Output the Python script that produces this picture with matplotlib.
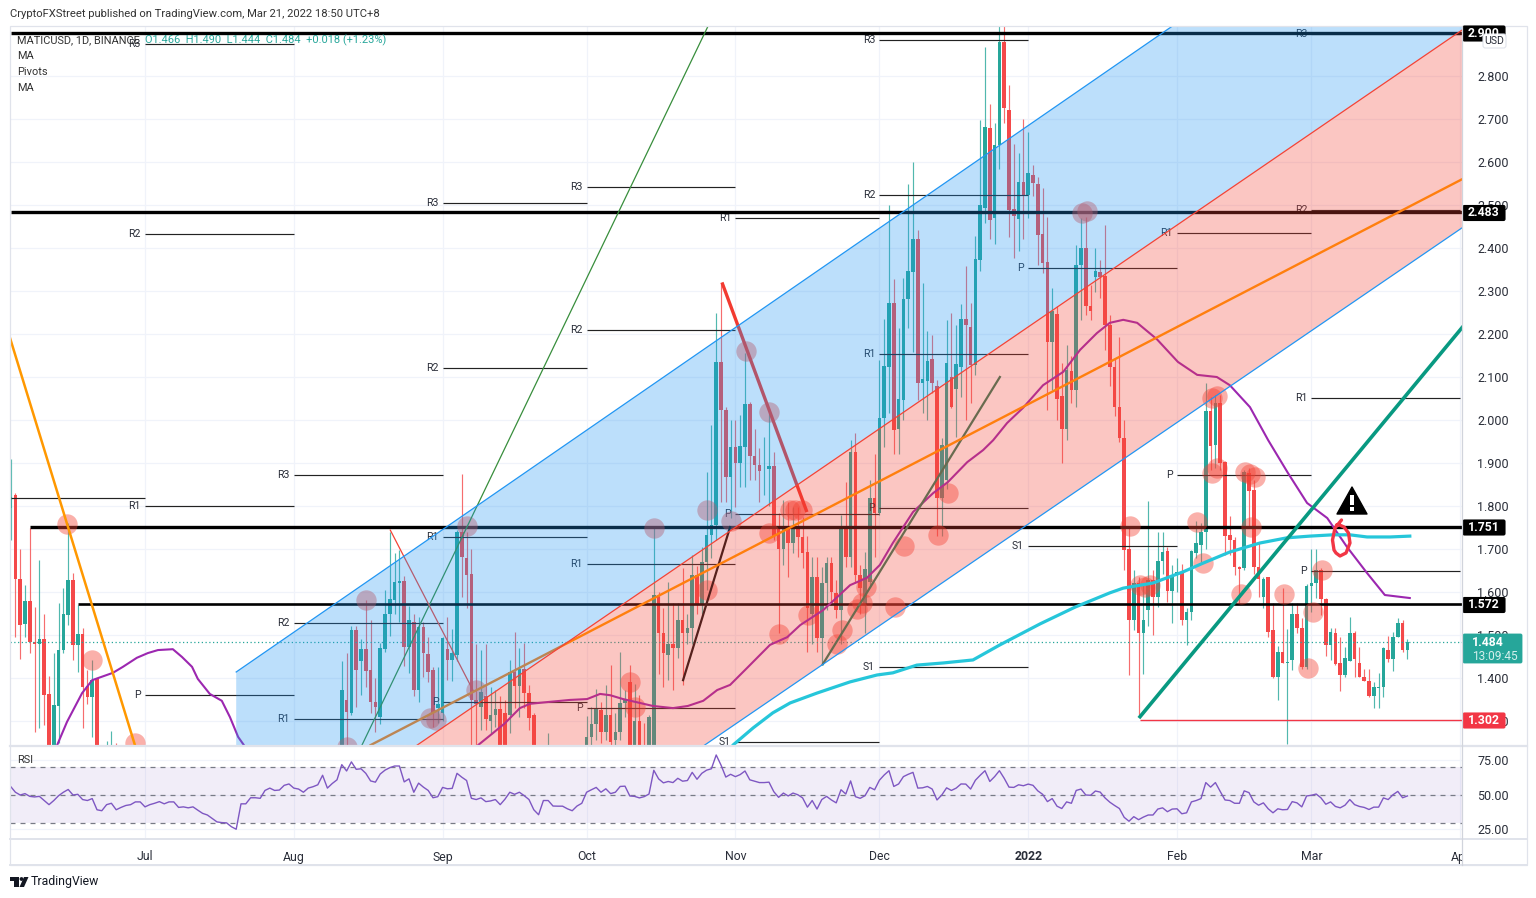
import matplotlib
matplotlib.use("Agg")
import matplotlib.pyplot as plt
from matplotlib.patches import Polygon, Rectangle, FancyBboxPatch, Circle
from matplotlib.transforms import Bbox, TransformedBbox

plt.rcParams["font.family"] = ["Roboto", "DejaVu Sans"]

W, H = 1536, 898
LEFT, RIGHT, TOP, MID, BOT = 10, 1462, 26, 745, 838

# ========================= CANDLES (day 0 = 1 Jul 2021) =========================
candle_days = list(range(-28, -5)) + list(range(41, 264))

opens = [
    1.795, 1.825, 1.63, 1.526, 1.58, 1.484, 1.479, 1.49, 1.363, 1.22,
    1.335, 1.465, 1.546, 1.628, 1.477, 1.502, 1.381, 1.356, 1.398, 1.2,
    1.12, 1.15, 1.18,
    # day 41
    1.24, 1.35, 1.318, 1.512, 1.44, 1.467, 1.419, 1.345, 1.31, 1.468,
    1.549, 1.581, 1.622, 1.626, 1.473, 1.531, 1.372, 1.519, 1.456, 1.419,
    1.33, 1.318, 1.467, 1.442, 1.454, 1.74, 1.678, 1.643, 1.349, 1.332,
    1.357, 1.301, 1.314, 1.327, 1.318, 1.314, 1.415, 1.382, 1.42, 1.364,
    1.314, 1.2, 1.21, 1.18, 1.2, 1.16, 1.19, 1.17, 1.2, 1.18,
    1.19, 1.2, 1.263, 1.293, 1.326, 1.274, 1.314, 1.256, 1.274, 1.343,
    # day 101
    1.39, 1.24, 1.30, 1.22, 1.21, 1.24, 1.589, 1.504, 1.453, 1.48,
    1.47, 1.535, 1.504, 1.516, 1.64, 1.57, 1.67, 1.733, 1.756, 2.136,
    2.023, 1.868, 1.938, 1.901, 1.938, 2.037, 1.916, 1.895, 1.886, 1.885,
    1.893, 1.75, 1.70, 1.75, 1.713, 1.75, 1.727, 1.694, 1.55, 1.636,
    1.492, 1.62, 1.667, 1.597, 1.558, 1.748, 1.682, 1.926, 1.64, 1.57,
    1.624, 1.818, 1.783, 2.004, 2.124, 2.273, 1.98, 2.047, 2.281, 2.345,
    # day 161
    2.422, 2.085, 2.09, 2.141, 2.08, 1.818, 1.86, 2.099, 2.071, 2.124,
    2.234, 2.216, 2.128, 2.371, 2.492, 2.678, 2.469, 2.639, 2.88, 2.721,
    2.49, 2.467, 2.554, 2.523, 2.57, 2.55, 2.432, 2.367, 2.182, 2.246,
    2.056, 1.98, 2.115, 2.07, 2.36, 2.4, 2.265, 2.333, 2.345, 2.335,
    2.221, 2.124, 2.031, 1.957, 1.70, 1.535, 1.62, 1.504, 1.558, 1.628,
    1.589, 1.673, 1.695, 1.603, 1.64, 1.647, 1.536, 1.553, 1.691, 1.71,
    # day 221
    1.74, 2.02, 1.942, 2.039, 1.902, 1.733, 1.721, 1.659, 1.655, 1.876,
    1.837, 1.659, 1.589, 1.634, 1.512, 1.403, 1.461, 1.434, 1.442, 1.549,
    1.516, 1.426, 1.614, 1.62, 1.651, 1.583, 1.477, 1.505, 1.436, 1.407,
    1.44, 1.505, 1.436, 1.403, 1.394, 1.357, 1.376, 1.38, 1.466, 1.444,
    1.496, 1.529, 1.466,
]
highs = [
    1.91, 1.83, 1.70, 1.616, 1.749, 1.565, 1.674, 1.549, 1.405, 1.458,
    1.574, 1.609, 1.76, 1.644, 1.57, 1.516, 1.419, 1.442, 1.40, 1.22,
    1.254, 1.277, 1.25,
    # day 41
    1.44, 1.457, 1.521, 1.521, 1.49, 1.581, 1.535, 1.40, 1.481, 1.605,
    1.739, 1.69, 1.698, 1.637, 1.567, 1.548, 1.543, 1.531, 1.496, 1.426,
    1.426, 1.496, 1.543, 1.515, 1.744, 1.875, 1.74, 1.699, 1.479, 1.464,
    1.479, 1.38, 1.372, 1.357, 1.349, 1.442, 1.508, 1.469, 1.482, 1.384,
    1.318, 1.235, 1.245, 1.271, 1.235, 1.22, 1.23, 1.225, 1.24, 1.22,
    1.235, 1.312, 1.333, 1.375, 1.345, 1.384, 1.43, 1.318, 1.46, 1.372,
    # day 101
    1.43, 1.387, 1.36, 1.295, 1.315, 1.75, 1.60, 1.562, 1.624, 1.574,
    1.574, 1.655, 1.55, 1.686, 1.66, 1.705, 1.88, 1.988, 2.248, 2.318,
    2.03, 2.0, 2.0, 2.012, 2.155, 2.043, 1.978, 1.936, 1.961, 2.016,
    1.926, 1.783, 1.814, 1.81, 1.798, 1.798, 1.775, 1.73, 1.682, 1.682,
    1.659, 1.682, 1.682, 1.628, 1.779, 1.856, 1.953, 1.969, 1.663, 1.694,
    1.86, 1.922, 2.14, 2.236, 2.50, 2.327, 2.213, 2.33, 2.55, 2.60,
    # day 161
    2.442, 2.318, 2.206, 2.197, 2.093, 1.957, 2.232, 2.25, 2.221, 2.27,
    2.359, 2.271, 2.428, 2.698, 2.867, 2.735, 2.69, 2.93, 2.93, 2.779,
    2.643, 2.62, 2.70, 2.67, 2.593, 2.566, 2.54, 2.473, 2.306, 2.264,
    2.132, 2.174, 2.15, 2.407, 2.469, 2.473, 2.314, 2.40, 2.373, 2.453,
    2.244, 2.143, 2.192, 2.0, 1.752, 1.651, 1.636, 1.62, 1.812, 1.651,
    1.74, 1.74, 1.705, 1.663, 1.678, 1.666, 1.562, 1.698, 1.764, 1.76,
    # day 221
    2.085, 2.054, 2.058, 2.058, 1.905, 1.777, 1.727, 1.66, 1.884, 1.888,
    1.86, 1.713, 1.636, 1.636, 1.574, 1.475, 1.61, 1.514, 1.574, 1.574,
    1.539, 1.618, 1.70, 1.70, 1.655, 1.585, 1.516, 1.516, 1.496, 1.473,
    1.543, 1.51, 1.473, 1.42, 1.42, 1.391, 1.411, 1.471, 1.498, 1.508,
    1.539, 1.536, 1.49,
]
lows = [
    1.72, 1.495, 1.444, 1.495, 1.458, 1.274, 1.284, 1.291, 1.15, 1.18,
    1.25, 1.458, 1.523, 1.442, 1.414, 1.284, 1.34, 1.263, 1.15, 1.10,
    1.08, 1.10, 1.12,
    # day 41
    1.18, 1.24, 1.314, 1.333, 1.36, 1.38, 1.318, 1.274, 1.293, 1.46,
    1.498, 1.55, 1.531, 1.429, 1.411, 1.357, 1.345, 1.403, 1.39, 1.287,
    1.295, 1.30, 1.395, 1.394, 1.44, 1.589, 1.562, 1.24, 1.2, 1.279,
    1.279, 1.27, 1.287, 1.2, 1.2, 1.271, 1.33, 1.31, 1.33, 1.279,
    1.15, 1.15, 1.16, 1.15, 1.14, 1.12, 1.15, 1.14, 1.16, 1.15,
    1.15, 1.15, 1.2, 1.256, 1.25, 1.256, 1.2, 1.22, 1.256, 1.31,
    # day 101
    1.2, 1.2, 1.2, 1.18, 1.18, 1.2, 1.41, 1.38, 1.395, 1.372,
    1.446, 1.384, 1.48, 1.48, 1.55, 1.55, 1.605, 1.678, 1.721, 1.81,
    1.81, 1.771, 1.798, 1.845, 1.845, 1.86, 1.86, 1.81, 1.825, 1.80,
    1.72, 1.504, 1.663, 1.636, 1.69, 1.682, 1.655, 1.461, 1.48, 1.461,
    1.43, 1.558, 1.57, 1.539, 1.48, 1.659, 1.659, 1.62, 1.55, 1.504,
    1.612, 1.682, 1.78, 1.938, 2.016, 1.92, 1.92, 2.0, 2.213, 2.158,
    # day 161
    2.046, 2.016, 2.0, 2.062, 1.73, 1.73, 1.84, 2.027, 1.96, 2.054,
    2.0, 2.039, 2.105, 2.347, 2.457, 2.422, 2.41, 2.583, 2.69, 2.426,
    2.376, 2.392, 2.422, 2.469, 2.52, 2.36, 2.343, 2.023, 2.07, 2.0,
    1.90, 1.953, 2.04, 2.03, 2.232, 2.244, 2.232, 2.298, 2.283, 2.163,
    2.08, 2.01, 1.95, 1.651, 1.407, 1.512, 1.314, 1.41, 1.52, 1.50,
    1.564, 1.643, 1.577, 1.527, 1.60, 1.523, 1.477, 1.535, 1.68, 1.67,
    # day 221
    1.70, 1.884, 1.888, 1.884, 1.686, 1.686, 1.64, 1.574, 1.651, 1.752,
    1.643, 1.589, 1.562, 1.496, 1.40, 1.35, 1.434, 1.247, 1.419, 1.505,
    1.42, 1.42, 1.554, 1.585, 1.546, 1.451, 1.442, 1.43, 1.37, 1.403,
    1.44, 1.402, 1.403, 1.394, 1.355, 1.33, 1.33, 1.355, 1.438, 1.417,
    1.496, 1.46, 1.444,
]
closes = [
    1.82, 1.63, 1.523, 1.58, 1.484, 1.479, 1.49, 1.36, 1.22, 1.337,
    1.465, 1.549, 1.628, 1.477, 1.502, 1.379, 1.356, 1.395, 1.2, 1.12,
    1.15, 1.18, 1.15,
    # day 41
    1.372, 1.32, 1.512, 1.419, 1.467, 1.416, 1.345, 1.333, 1.469, 1.55,
    1.584, 1.623, 1.626, 1.473, 1.535, 1.371, 1.519, 1.457, 1.415, 1.318,
    1.34, 1.492, 1.442, 1.459, 1.739, 1.681, 1.64, 1.349, 1.34, 1.368,
    1.304, 1.314, 1.327, 1.24, 1.24, 1.415, 1.382, 1.42, 1.364, 1.306,
    1.2, 1.21, 1.18, 1.2, 1.16, 1.19, 1.17, 1.2, 1.18, 1.19,
    1.2, 1.263, 1.293, 1.328, 1.274, 1.314, 1.252, 1.275, 1.343, 1.351,
    # day 101
    1.24, 1.30, 1.22, 1.21, 1.31, 1.593, 1.504, 1.457, 1.48, 1.47,
    1.535, 1.504, 1.516, 1.64, 1.57, 1.67, 1.733, 1.756, 2.136, 2.023,
    1.868, 1.938, 1.901, 1.94, 2.037, 1.916, 1.895, 1.882, 1.887, 1.893,
    1.73, 1.70, 1.75, 1.713, 1.75, 1.727, 1.69, 1.562, 1.636, 1.492,
    1.62, 1.667, 1.60, 1.558, 1.748, 1.682, 1.926, 1.64, 1.61, 1.653,
    1.818, 1.783, 2.004, 2.126, 2.272, 1.976, 2.05, 2.281, 2.347, 2.422,
    # day 161
    2.085, 2.095, 2.137, 2.085, 1.818, 1.942, 2.132, 2.031, 2.13, 2.236,
    2.221, 2.128, 2.374, 2.5, 2.682, 2.465, 2.639, 2.878, 2.726, 2.488,
    2.474, 2.553, 2.52, 2.574, 2.552, 2.43, 2.364, 2.182, 2.254, 2.05,
    1.98, 2.116, 2.07, 2.36, 2.40, 2.264, 2.254, 2.346, 2.333, 2.221,
    2.124, 2.031, 1.957, 1.698, 1.535, 1.62, 1.504, 1.535, 1.628, 1.589,
    1.673, 1.694, 1.603, 1.64, 1.647, 1.536, 1.553, 1.695, 1.713, 1.74,
    # day 221
    2.02, 1.94, 2.039, 1.90, 1.731, 1.72, 1.659, 1.654, 1.878, 1.836,
    1.659, 1.63, 1.63, 1.508, 1.403, 1.461, 1.434, 1.438, 1.55, 1.516,
    1.426, 1.615, 1.62, 1.651, 1.583, 1.477, 1.508, 1.433, 1.407, 1.447,
    1.505, 1.445, 1.403, 1.394, 1.357, 1.378, 1.379, 1.469, 1.444, 1.496,
    1.529, 1.464, 1.484,
]

# ========================= MOVING AVERAGES =========================
ma_left_days = [-20, -18.3, -16.25, -13.1, -11, -6.7, -4.6, -1.7, 0.6, 2.7, 5.8, 7.7, 9.8, 11, 13.5, 16, 17.7, 19.4, 20.6, 22]
ma_left_vals = [1.20, 1.244, 1.298, 1.365, 1.395, 1.412, 1.426, 1.447, 1.458, 1.465, 1.467, 1.449, 1.426, 1.398, 1.363, 1.347, 1.309, 1.263, 1.244, 1.20]
ma_days = [67, 69.4, 72.5, 75, 78.1, 80.2, 83.8, 88.5, 92.1, 94.8, 96.9, 99.6, 103.1, 105.8, 110, 113.1, 116.3, 119.2, 121.9,
           125.4, 130.2, 133.8, 136.5, 141.3, 146.9, 150.4, 153.1, 155.8, 160, 164.2, 167.3, 171.3, 174.6, 176.7, 179.6,
           182.9, 187.1, 191.3, 194.8, 198.3, 201, 203.8, 206.7, 210.8, 215.2, 219.2, 223.3, 226, 230.2, 234, 238.1,
           242.1, 246.3, 250.4, 254.6, 258.3, 263.5]
ma_vals = [1.20, 1.244, 1.272, 1.295, 1.33, 1.34, 1.344, 1.349, 1.351, 1.363, 1.36, 1.351, 1.342, 1.335, 1.33, 1.335, 1.347, 1.372, 1.384,
           1.423, 1.477, 1.495, 1.523, 1.558, 1.616, 1.633, 1.663, 1.714, 1.786, 1.83, 1.856, 1.902, 1.93, 1.953, 1.993,
           2.028, 2.081, 2.112, 2.163, 2.202, 2.226, 2.233, 2.226, 2.188, 2.135, 2.105, 2.10, 2.081, 2.03, 1.953, 1.877,
           1.807, 1.772, 1.705, 1.644, 1.593, 1.586]
ma_long_days = [120, 122.5, 126.7, 130.8, 134.4, 140, 146.9, 152.5, 155.8, 160.8, 166.3, 172.5, 178.1, 186.5, 193.8, 201, 203.8,
                210, 216.3, 220.4, 226, 232.3, 237.9, 242.7, 247.5, 251, 254.6, 259.4, 263.5]
ma_long_vals = [1.20, 1.244, 1.284, 1.319, 1.342, 1.365, 1.391, 1.407, 1.412, 1.43, 1.435, 1.442, 1.477, 1.526, 1.565, 1.598, 1.609,
                1.621, 1.647, 1.667, 1.693, 1.714, 1.726, 1.73, 1.733, 1.733, 1.728, 1.728, 1.73]

# ========================= RSI (one value per day from day -28) =========================
rsi = [
    56.2, 52, 50, 51, 49, 48.6, 49, 46, 43, 46, 49.5, 52, 54, 50, 50.5, 46.7, 46, 47.4, 39.3, 38.6,
    43, 44, 39.3, 41, 42.4, 43, 45, 45, 41.4, 43, 44, 45.2, 43.6, 45, 45, 41, 41.4, 40.7, 41.4, 39,
    36.7, 35.5, 33, 30.5, 30, 29.8, 27, 25.2, 43.6, 43.6, 48, 48, 47.6, 53.3, 55, 53.3, 53.6, 57, 58, 55,
    54.3, 52, 55, 56, 57.4, 64.3, 55, 58.3, 61, 72, 67.4, 74, 68.6, 69, 65.7, 60.2, 59.3, 65.2, 68, 69.8,
    71, 71, 59.5, 61.7, 52, 58.6, 55.7, 53.3, 48, 48.8, 55.5, 54.5, 54.8, 65.7, 62.9, 60.5, 47.6, 46.7, 47.9, 45.2,
    45.7, 46.7, 43, 47, 52, 50.5, 52, 49.5, 46.7, 39.3, 35.7, 46, 46, 42, 41.9, 41.9, 40, 38.6, 42, 44,
    52, 53.8, 55.5, 52, 54.5, 51, 52, 56.2, 56.4, 49.3, 49, 47.9, 48.8, 50.7, 67.9, 61.7, 58.8, 59.8, 59, 62.1,
    60, 60.5, 66.4, 61.4, 65.7, 68, 69, 79, 71.7, 63, 65, 63.3, 64.8, 67.4, 61, 60, 59, 59, 59.3, 52.4,
    48.3, 51.4, 49.3, 51.4, 50.2, 47.9, 41.2, 46, 39.8, 46.7, 49, 46.4, 44.3, 53.8, 50.7, 60.2, 48.8, 47.6, 49.5, 55.5,
    53.8, 60.7, 64.5, 67.6, 56.2, 58, 63.3, 65, 66.4, 55, 55.2, 56.2, 54.3, 46.4, 50, 55.2, 53.3, 55, 58, 57.9,
    54.3, 60.7, 64.3, 67.6, 59.8, 63.3, 67.6, 62.1, 55.7, 55.5, 57.4, 56.7, 57.9, 57, 53, 50.5, 45.2, 47.4, 41.9, 40.2,
    45, 44, 53.3, 54.3, 50, 49.8, 52.9, 52.1, 47.9, 44.8, 42.4, 40.2, 33.8, 31, 34.3, 32.1, 34, 35.5, 35.5, 39.8,
    40.7, 37.9, 39.8, 40, 36.4, 37.1, 45, 46, 47.4, 59, 55.7, 59, 52.6, 46.4, 46, 44, 44, 53, 51.7, 45,
    42.6, 44.3, 40, 37.1, 40, 39.3, 39.5, 45.2, 44.3, 41.4, 49.3, 49.8, 50.7, 47.9, 43.3, 45, 41.7, 40.7, 42.6, 46.7,
    43, 41.7, 41, 39.5, 41.2, 41.2, 47.9, 46.7, 50.2, 52.6, 48, 49.3,
]
rsi_days = list(range(-28, -28 + len(rsi)))

# ========================= PIVOTS =========================
pivot_labels = ["R3", "R2", "R1", "P", "", "R3", "R2", "R1", "R3", "R2", "R1", "P", "R3", "R2", "R1", "P",
                "R1", "P", "S1", "R3", "R2", "R1", "P", "S1", "P", "S1", "R1", "P", "R3", "R2", "R1", "P"]
pivot_start = [0, 0, 0, 0, -28, 31, 31, 31, 62, 62, 62, 62, 92, 92, 92, 92,
               123, 123, 123, 153, 153, 153, 153, 153, 184, 184, 215, 215, 243, 243, 243, 243]
pivot_end = [31, 31, 31, 31, 0, 62, 62, 62, 92, 92, 92, 92, 123, 123, 123, 123,
             153, 153, 153, 184, 184, 184, 184, 184, 215, 215, 243, 243, 274, 274, 274, 274]
pivot_vals = [2.874, 2.433, 1.80, 1.36, 1.819, 1.872, 1.528, 1.305, 2.505, 2.121, 1.728, 1.344, 2.542, 2.209, 1.665, 1.33,
              2.47, 1.781, 1.251, 2.884, 2.523, 2.153, 1.795, 1.426, 2.353, 1.707, 2.435, 1.872, 2.898, 2.488, 2.051, 1.649]

# ========================= DRAWN LEVELS, CHANNEL, TREND LINES =========================
level_prices = [2.90, 2.483, 1.751, 1.572]
level_starts = [-28, -28, -24, -14]
level_widths = [2.4, 2.4, 2.4, 1.9]

channel_days = [19, 274.4]
channel_upper = [1.414, 3.381]
channel_mid = [0.956, 2.907]
channel_lower = [0.50, 2.447]
channel_centre_days = [47, 274.4]
channel_centre = [1.244, 2.56]

orange_steep_days = [-28.1, -2.1]
orange_steep = [2.19, 1.244]
green_thin_days = [45.2, 117.3]
green_thin = [1.244, 2.916]
red_thin_days = [51.1, 68.4]
red_thin = [1.744, 1.37]
red_thick_days = [120.2, 137.9]
red_thick = [2.32, 1.786]
black_trend_days = [112.1, 121.9]
black_trend = [1.395, 1.751]
green_trend_days = [141.2, 178.1]
green_trend = [1.432, 2.10]
teal_trend_days = [207.3, 274.4]
teal_trend = [1.31, 2.215]

circle_days = [-16.25, -11, -2.1, 42.1, 46, 59.4, 60.6, 67.1, 69, 101, 102.1, 106, 117.1, 122.1, 125.2, 130, 117.1, 130,
               134.4, 135.4, 136.9, 132.1, 138.1, 148.3, 149.4, 150.2, 145.2, 144.2, 156.3, 158.1, 165.2, 167.3, 195.2,
               196.3, 205.2, 207.3, 208.3, 209.4, 219.2, 220.4, 222.3, 223.3, 222.3, 223.3, 229.2, 230.2, 231.3, 230.4,
               228.3, 237.3, 242.3, 243.3, 245.2]
circle_vals = [1.758, 1.442, 1.249, 1.24, 1.581, 1.307, 1.302, 1.753, 1.372, 1.391, 1.333, 1.749, 1.791, 1.765, 2.16, 2.019, 1.605, 1.737,
               1.791, 1.791, 1.791, 1.502, 1.547, 1.56, 1.574, 1.612, 1.512, 1.479, 1.565, 1.707, 1.733, 1.83, 2.481,
               2.486, 1.753, 1.616, 1.612, 1.616, 1.763, 1.667, 2.051, 2.056, 1.877, 1.888, 1.879, 1.874, 1.867, 1.751,
               1.595, 1.595, 1.423, 1.553, 1.651]

month_days = [0, 31, 62, 92, 123, 153, 184, 215, 243, 274]
month_labels = ["Jul", "Aug", "Sep", "Oct", "Nov", "Dec", "2022", "Feb", "Mar", "Apr"]
price_ticks = [1.3, 1.4, 1.5, 1.6, 1.7, 1.8, 1.9, 2.0, 2.1, 2.2, 2.3, 2.4, 2.5, 2.6, 2.7, 2.8]
rsi_ticks = [25, 50, 75]

UP, DOWN = "#26a69a", "#f4494a"
TEXT = "#2a2e39"
GRID = "#f0f3fa"
BORDER = "#e0e3eb"


def rect(x0, y0, x1, y1):
    return [x0 / W, 1 - y1 / H, (x1 - x0) / W, (y1 - y0) / H]


fig = plt.figure(figsize=(W / 100, H / 100), dpi=100, facecolor="white")
ax = fig.add_axes(rect(LEFT, TOP, RIGHT, MID))
ax_rsi = fig.add_axes(rect(LEFT, MID + 2, RIGHT, BOT))
top = fig.add_axes([0, 0, 1, 1], zorder=10)
top.set_xlim(0, W)
top.set_ylim(H, 0)
top.axis("off")

xlim = (-28.125, 274.375)

# ========================= PRICE PANE =========================
ax.set_xlim(xlim)
ax.set_ylim(1.2442, 2.9163)
ax.set_xticks(month_days)
ax.set_yticks(price_ticks)
ax.grid(True, color=GRID, lw=0.9, zorder=0)
ax.set_axisbelow(True)
ax.yaxis.tick_right()
ax.tick_params(axis="y", length=0, pad=11, labelsize=9, labelcolor=TEXT)
ax.tick_params(axis="x", length=0, labelbottom=False)
ax.set_yticklabels(["%.3f" % v for v in price_ticks])
for s in ax.spines.values():
    s.set_visible(False)

for d, o, h, l, c in zip(candle_days, opens, highs, lows, closes):
    col = UP if c >= o else DOWN
    ax.vlines(d, l, h, color=col, lw=0.85, alpha=0.8, zorder=2)
    ax.bar(d, abs(c - o), bottom=min(o, c), width=0.72, color=col, lw=0, zorder=2.1)

for lab, a, b, v in zip(pivot_labels, pivot_start, pivot_end, pivot_vals):
    ax.hlines(v, a, b, color="#222222", lw=0.85, zorder=2.3)
    if lab:
        ax.text(a - 0.9, v, lab, ha="right", va="center", fontsize=7.6, color=TEXT, zorder=2.3, clip_on=True)

for price, start, width in zip(level_prices, level_starts, level_widths):
    ax.hlines(price, start, xlim[1], color="black", lw=width, zorder=2.4)
ax.hlines(1.302, 207.3, xlim[1], color="#f23645", lw=1, zorder=2.4)
ax.hlines(closes[-1], xlim[0], xlim[1], color=UP, lw=0.9, linestyles=(0, (1, 2)), zorder=2.4)

ax.scatter(circle_days, circle_vals, s=215, color="#f44336", alpha=0.42, lw=0, zorder=2.5)

ax.plot(ma_left_days, ma_left_vals, color="#9c27b0", lw=1.5, zorder=2.6)
ax.plot(ma_days, ma_vals, color="#9c27b0", lw=1.5, zorder=2.6)
ax.plot(ma_long_days, ma_long_vals, color="#26c6da", lw=2.3, zorder=6)

ax.plot(green_thin_days, green_thin, color="#388e3c", lw=0.9, zorder=2.7)
ax.plot(red_thin_days, red_thin, color="#f44336", lw=0.9, zorder=2.7)
ax.plot(black_trend_days, black_trend, color="#111111", lw=1.6, zorder=2.7)
ax.plot(green_trend_days, green_trend, color="#2e7d5b", lw=1.6, zorder=2.7)

# red band sits under the bright lines, blue band over them
ax.fill_between(channel_days, channel_lower, channel_mid, color="#f44336", alpha=0.3, lw=0, zorder=3)
ax.plot(channel_centre_days, channel_centre, color="#ff7f0e", lw=1.7, zorder=4)
ax.plot(red_thick_days, red_thick, color="#f23a30", lw=2.4, zorder=4, solid_capstyle="butt")
ax.fill_between(channel_days, channel_mid, channel_upper, color="#2196f3", alpha=0.3, lw=0, zorder=5)
ax.plot(channel_days, channel_upper, color="#2196f3", lw=0.9, zorder=5.5)
ax.plot(channel_days, channel_mid, color="#f44336", lw=0.9, zorder=5.5)
ax.plot(channel_days, channel_lower, color="#2196f3", lw=0.9, zorder=5.5)

ax.plot(orange_steep_days, orange_steep, color="#ff9800", lw=1.8, zorder=6)
ax.plot(teal_trend_days, teal_trend, color="#089981", lw=2.6, zorder=6)

# ========================= RSI PANE =========================
ax_rsi.set_xlim(xlim)
ax_rsi.set_ylim(18.84, 84.78)
ax_rsi.set_xticks(month_days)
ax_rsi.set_yticks(rsi_ticks)
ax_rsi.grid(True, color=GRID, lw=0.9, zorder=0)
ax_rsi.set_axisbelow(True)
ax_rsi.yaxis.tick_right()
ax_rsi.tick_params(axis="y", length=0, pad=11, labelsize=9, labelcolor=TEXT)
ax_rsi.set_yticklabels(["%.2f" % v for v in rsi_ticks])
ax_rsi.tick_params(axis="x", length=0, pad=9, labelsize=8.8, labelcolor=TEXT)
ax_rsi.set_xticklabels(month_labels)
for s in ax_rsi.spines.values():
    s.set_visible(False)
ax_rsi.axhspan(30, 70, color="#7e57c2", alpha=0.1, lw=0, zorder=1)
for lev in [30, 50, 70]:
    ax_rsi.axhline(lev, color="#787b86", lw=0.9, ls=(0, (4, 4)), zorder=2)
ax_rsi.plot(rsi_days, rsi, color="#7e57c2", lw=1.0, zorder=3)

clip = TransformedBbox(Bbox([[0, 0], [RIGHT / W, 1]]), fig.transFigure)
for t, name in zip(ax_rsi.get_xticklabels(), month_labels):
    t.set_clip_box(clip)
    t.set_clip_on(True)
    if name == "2022":
        t.set_fontweight("bold")

# ========================= FRAME =========================
top.add_patch(Rectangle((LEFT, TOP), 1527 - LEFT, 865 - TOP, fill=False, ec=BORDER, lw=0.9))
top.plot([LEFT, 1527], [746, 746], color=BORDER, lw=1.6)
top.plot([LEFT, 1527], [838.5, 838.5], color=BORDER, lw=1.4)
top.plot([LEFT, 1527], [865, 865], color=BORDER, lw=1.4)
top.plot([RIGHT, RIGHT], [TOP, 865], color="#d1d4dc", lw=0.9)

# ========================= HEADER AND LEGEND TEXT =========================
top.text(10, 14, "CryptoFXStreet published on TradingView.com, Mar 21, 2022 18:50 UTC+8",
         fontsize=8.1, color="#333333", va="center")
top.text(17, 40, "MATICUSD, 1D, BINANCE", fontsize=7.9, color="#333333", va="center")
top.text(145, 40, "O1.466  H1.490  L1.444  C1.484  +0.018 (+1.23%)", fontsize=7.9, color=UP, va="center")
for yy, name in zip([56, 72, 88], ["MA", "Pivots", "MA"]):
    top.text(17, yy, name, fontsize=7.9, color="#333333", va="center")
top.text(17, 760, "RSI", fontsize=7.9, color="#333333", va="center")

# ========================= PRICE TAGS =========================
for yy, lab, col in [(33.5, "2.900", "black"), (213, "2.483", "black"), (527.5, "1.751", "black"),
                     (605, "1.572", "black"), (720.5, "1.302", "#f23645")]:
    top.add_patch(FancyBboxPatch((1463, yy - 7.5), 42, 15, boxstyle="round,pad=0,rounding_size=1.5", fc=col, ec=col, lw=0.8))
    top.text(1484, yy, lab, color="white", fontsize=8.8, fontweight="bold", ha="center", va="center")

top.add_patch(FancyBboxPatch((1463, 634), 59, 29, boxstyle="round,pad=0,rounding_size=1.5", fc=UP, ec=UP, lw=0.6))
top.text(1472, 642, "1.484", color="white", fontsize=8.8, fontweight="bold", va="center")
top.text(1472, 656, "13:09:45", color="#d4efec", fontsize=8.6, va="center")

top.add_patch(FancyBboxPatch((1483, 34), 23, 14, boxstyle="round,pad=0,rounding_size=2.5", fc="white", ec=BORDER, lw=0.8))
top.text(1494.5, 41, "USD", color=TEXT, fontsize=7.6, ha="center", va="center")

# ========================= HAND-DRAWN MARKS =========================
top.add_patch(Polygon([(1352, 487), (1367, 514), (1337, 514)], closed=True, fc="black", ec="black", lw=1, joinstyle="round"))
top.add_patch(Rectangle((1349.5, 495), 4.5, 10, fc="white", ec="none"))
top.add_patch(Rectangle((1349.5, 507), 4.5, 4, fc="white", ec="none"))

scribble_x = [1341.5, 1335, 1332.5, 1334, 1336, 1340, 1346, 1350, 1348.5, 1344, 1339.5, 1336.5]
scribble_y = [520, 528, 540, 550, 553, 556, 553, 543, 533, 527, 525, 525]
top.plot(scribble_x, scribble_y, color="#f23645", lw=2.4, solid_capstyle="round", solid_joinstyle="round")

# ========================= LOGO =========================
top.add_patch(Polygon([(10, 877), (19, 877), (19, 887), (14, 887), (14, 881), (10, 881)], closed=True, fc="#131722", ec="none"))
top.add_patch(Circle((21.5, 879), 1.9, fc="#131722", ec="none"))
top.add_patch(Polygon([(24, 877), (28.5, 877), (24, 887), (19.5, 887)], closed=True, fc="#131722", ec="none"))
top.text(31, 881.5, "TradingView", fontsize=8.8, color="#131722", va="center")

fig.savefig("out.png", dpi=100)
